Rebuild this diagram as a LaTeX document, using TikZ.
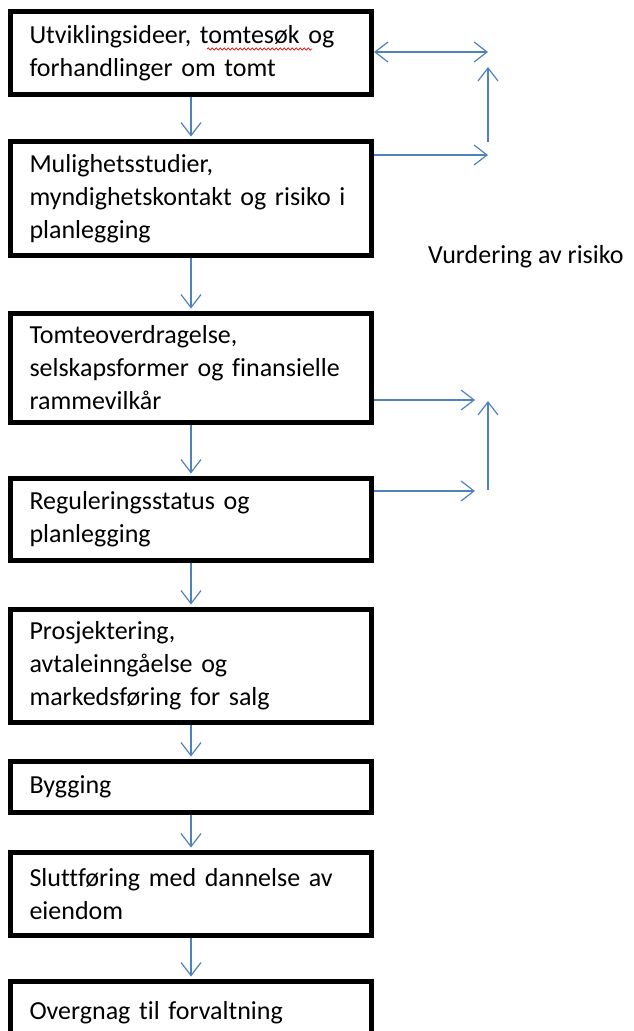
\documentclass[tikz,border=0pt]{standalone}
\usepackage{fontspec}
\setmainfont{Carlito}[Ligatures={NoCommon,NoContextual}]
\usepackage{tikz}
\usetikzlibrary{arrows.meta,decorations.pathmorphing,calc}
\definecolor{arrowblue}{RGB}{79,129,189}

\begin{document}
\begin{tikzpicture}
  [x=1pt,y=-1pt,every node/.style={font=\fontsize{26}{33}\selectfont},
   box/.style={draw,line width=5pt,minimum width=361pt,text width=323pt,inner xsep=19pt,inner ysep=0pt,align=left},
   flow/.style={draw=arrowblue,line width=1.2pt,-{Straight Barb[length=13pt,width=20pt]}}]
  \tikzstyle{both}=[flow,{Straight Barb[length=13pt,width=20pt]}-{Straight Barb[length=13pt,width=20pt]}]
  \tikzstyle{squig}=[red,line width=0.7pt,decorate,decoration={snake,amplitude=1.2pt,segment length=4pt}]
  \useasboundingbox (0,0) rectangle (634,1031);
  \clip (0,0) rectangle (634,1031);
  \node[box,minimum height=83pt]  (n1) at (191,53)    {Utviklingsideer, tomtesøk og\\forhandlinger om tomt};
  \node[box,minimum height=114pt] (n2) at (191,198.5) {Mulighetsstudier,\\myndighetskontakt og risiko i\\planlegging};
  \node[box,minimum height=109pt] (n3) at (191,368)   {Tomteoverdragelse,\\selskapsformer og finansielle\\rammevilkår};
  \node[box,minimum height=82pt]  (n4) at (191,519.5) {Reguleringsstatus og\\planlegging};
  \node[box,minimum height=113pt] (n5) at (191,666)   {Prosjektering,\\avtaleinngåelse og\\markedsføring for salg};
  \node[box,minimum height=51pt]  (n6) at (191,787)   {Bygging};
  \node[box,minimum height=83pt]  (n7) at (191,894)   {Sluttføring med dannelse av\\eiendom};
  \node[box,minimum height=63pt]  (n8) at (191,1013)  {Overgnag til forvaltning};
  \node[anchor=west,inner sep=0pt] (risk) at (428,257) {Vurdering av risiko};

  \coordinate (w1) at (207,49);
  \coordinate (w2) at (312,49);
  \coordinate (r1) at (488,52);
  \coordinate (r2) at (488,155);
  \coordinate (u1) at (488,142);
  \coordinate (u2) at (488,67);
  \coordinate (r3) at (475,400);
  \coordinate (r4) at (475,491);
  \coordinate (u3) at (488,490);
  \coordinate (u4) at (488,401);

  \draw[squig] (w1) -- (w2);

  \draw[flow,shorten >=2.5pt] (n1) -- (n2);
  \draw[flow,shorten >=2.5pt] (n2) -- (n3);
  \draw[flow,shorten >=2.5pt] (n3) -- (n4);
  \draw[flow,shorten >=2.5pt] (n4) -- (n5);
  \draw[flow,shorten >=2.5pt] (n5) -- (n6);
  \draw[flow,shorten >=2.5pt] (n6) -- (n7);
  \draw[flow,shorten >=2.5pt] (n7) -- (n8);

  \draw[both] (n1.east |- r1) -- (r1);
  \draw[flow] (n2.east |- r2) -- (r2);
  \draw[flow] (u1) -- (u2);
  \draw[flow] (n3.east |- r3) -- (r3);
  \draw[flow] (n4.east |- r4) -- (r4);
  \draw[flow] (u3) -- (u4);
\end{tikzpicture}
\end{document}
